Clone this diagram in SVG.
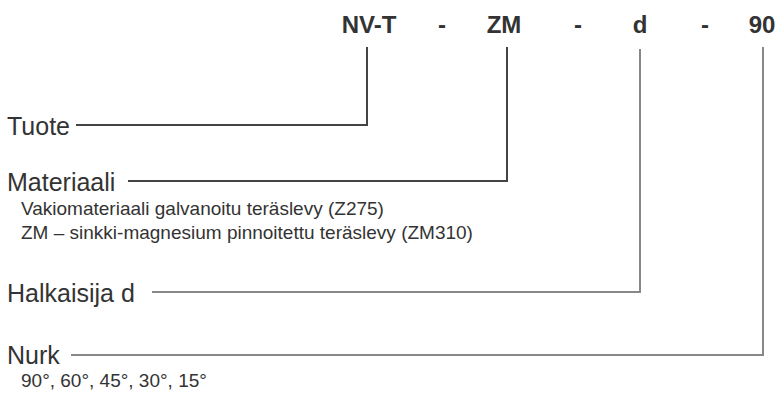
<svg xmlns="http://www.w3.org/2000/svg" width="778" height="398" viewBox="0 0 778 398">
<style>
.t{font-family:"Liberation Sans",Arial,sans-serif;fill:#333;}
.h{font-size:24px;font-weight:bold;text-anchor:middle;}
.l{font-size:25px;}
.s{font-size:19px;}
.c{fill:none;stroke-width:2;}
.dk{stroke:#444;}
.lt{stroke:#888;}
</style>
<rect width="778" height="398" fill="#fff"/>
<g id="code">
<text class="t h" x="369" y="33">NV-T</text>
<text class="t h" x="442" y="33">-</text>
<text class="t h" x="504" y="33">ZM</text>
<text class="t h" x="578" y="33">-</text>
<text class="t h" x="640" y="33">d</text>
<text class="t h" x="705" y="33">-</text>
<text class="t h" x="762" y="33">90</text>
</g>
<g id="connectors">
<polyline class="c dk" points="367,47 367,125 76,125"/>
<polyline class="c dk" points="507,47 507,181 128,181"/>
<polyline class="c lt" points="640,49 640,292 152,292"/>
<polyline class="c lt" points="763,47 763,355 71,355"/>
</g>
<g id="tuote"><text class="t l" x="7" y="135">Tuote</text></g>
<g id="materiaali">
<text class="t l" x="7" y="191">Materiaali</text>
<text class="t s" x="21" y="215">Vakiomateriaali galvanoitu teräslevy (Z275)</text>
<text class="t s" x="21" y="239">ZM – sinkki-magnesium pinnoitettu teräslevy (ZM310)</text>
</g>
<g id="halkaisija"><text class="t l" x="7" y="302">Halkaisija d</text></g>
<g id="nurk">
<text class="t l" x="7" y="364">Nurk</text>
<text class="t s" x="21" y="387">90°, 60°, 45°, 30°, 15°</text>
</g>
</svg>
